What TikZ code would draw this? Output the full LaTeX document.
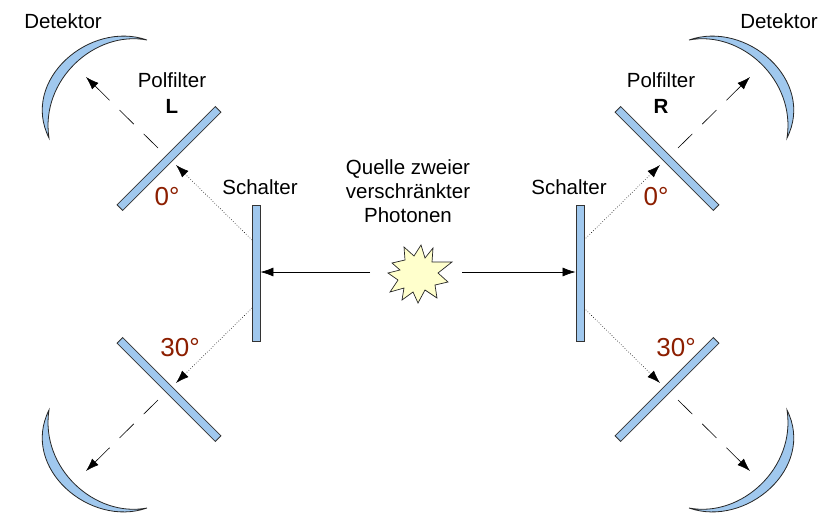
\documentclass[tikz,border=0pt]{standalone}
\usepackage{fontspec}
\setmainfont{Liberation Sans}
\usetikzlibrary{arrows.meta}
\definecolor{fblue}{RGB}{160,200,238}
\definecolor{deg}{RGB}{140,30,0}
\definecolor{star}{RGB}{255,255,204}
\tikzset{
 bar/.style={draw=black!80,fill=fblue,line width=0.8pt,rectangle,inner sep=0pt},
 det/.style={draw=black!85,fill=fblue,line width=0.8pt},
 arr/.style={-{Latex[length=13pt,width=9pt]}},
 dashedarr/.style={arr,dash pattern=on 20pt off 14pt,line width=0.6pt},
 dottedarr/.style={arr,dotted,line width=0.6pt},
 lbl/.style={font=\fontsize{20.5}{24}\selectfont,align=center},
 deglbl/.style={font=\fontsize{26}{28}\selectfont,text=deg}
}
\newcommand\quadrant{%
 \node[bar,rotate=45,transform shape,minimum width=139pt,minimum height=8pt] (pol) at (169,158.5) {};
 \path[det] (49,138) .. controls (20,80) and (90,20) .. (147,40)
   .. controls (95,30) and (40,80) .. (49,138) -- cycle;
 \coordinate (s) at (252,240);
 \coordinate (p) at (176,165);
 \coordinate (d0) at (158,148);
 \coordinate (d1) at (86,77);
 \draw[dottedarr] (s) -- (p);
 \draw[dashedarr] (d0) -- (d1);
}
\begin{document}
\begin{tikzpicture}[x=1pt,y=-1pt]
\useasboundingbox (0,0) rectangle (832,528);
\begin{scope}\quadrant\end{scope}
\begin{scope}[xshift=836pt,xscale=-1]\quadrant\end{scope}
\begin{scope}[yshift=-548pt,yscale=-1]\quadrant\end{scope}
\begin{scope}[xshift=836pt,xscale=-1,yshift=-548pt,yscale=-1]\quadrant\end{scope}
\node[bar,minimum width=8pt,minimum height=136pt] (swL) at (256,273) {};
\node[bar,minimum width=8pt,minimum height=136pt] (swR) at (580,273) {};
\coordinate (src) at (420,276);
\path[draw=black!85,fill=star,line width=0.7pt]
 (392,263) -- (405,260) -- (404,247) -- (414,256) -- (421,245) -- (425,258)
 -- (433,248) -- (432,262) -- (452,262) -- (438,273) -- (448,282) -- (435,285)
 -- (437,298) -- (425,290) -- (418,303) -- (413,292) -- (402,300) -- (404,288)
 -- (390,292) -- (398,280) -- (388,273) -- (400,270) -- cycle;
\coordinate (aL) at (370,272);
\coordinate (aR) at (462,272);
\draw[arr,line width=0.7pt] (aL) -- (swL.east |- aL);
\draw[arr,line width=0.7pt] (aR) -- (swR.west |- aR);
\node[lbl] (t1) at (63,21) {Detektor};
\node[lbl] (t2) at (779,21) {Detektor};
\node[lbl] (t3) at (172,80) {Polfilter};
\node[lbl,font=\fontsize{20.5}{24}\selectfont\bfseries] (t4) at (172,106) {L};
\node[lbl] (t5) at (661,80) {Polfilter};
\node[lbl,font=\fontsize{20.5}{24}\selectfont\bfseries] (t6) at (661,106) {R};
\node[lbl] (t7) at (260,187) {Schalter};
\node[lbl] (t8) at (569,187) {Schalter};
\node[lbl] (t9) at (408,191) {Quelle zweier\\verschränkter\\Photonen};
\node[deglbl] (g1) at (167,197) {0°};
\node[deglbl] (g2) at (656,197) {0°};
\node[deglbl] (g3) at (180,348) {30°};
\node[deglbl] (g4) at (676,348) {30°};
\end{tikzpicture}
\end{document}
